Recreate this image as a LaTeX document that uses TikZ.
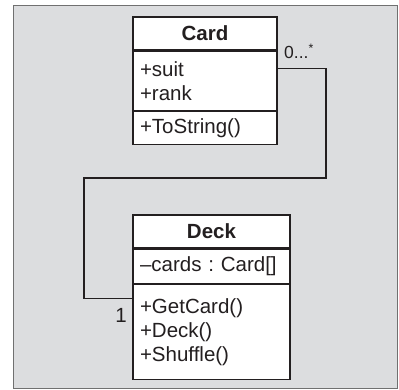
\documentclass[tikz,border=0pt]{standalone}
\usepackage{fontspec}
\setmainfont{Liberation Sans}
\usetikzlibrary{positioning}
\frenchspacing

\definecolor{framefill}{RGB}{220,221,223}
\definecolor{framegray}{RGB}{112,112,112}
\definecolor{ink}{RGB}{35,31,32}

\begin{document}
\begin{tikzpicture}[x=1pt, y=-1pt, line join=miter, text=ink,
  umlpart/.style={draw=ink, fill=white, line width=1.2pt, inner xsep=7pt, inner ysep=0pt,
    align=left, font=\fontsize{20.5}{24}\selectfont},
  umlhead/.style={align=center, font=\fontsize{20.5}{24}\selectfont\bfseries},
  cardpart/.style={umlpart, text width=130pt},
  deckpart/.style={umlpart, text width=143pt},
  assoc/.style={draw=ink, line width=1.2pt},
  mult/.style={inner sep=0pt, font=\fontsize{#1}{20}\selectfont}]

  %% ════ 背景框 ════
  \draw[draw=framegray, fill=framefill, line width=1pt] (13,5) rectangle (397,388);

  %% ════ Card 类 ════
  \node[cardpart, umlhead, minimum height=33pt] (cardhead) at (205,33.5) {Card};
  \node[cardpart, minimum height=59pt, below=0pt of cardhead] (cardattr) {+suit\\+rank};
  \node[cardpart, minimum height=33pt, below=0pt of cardattr] (cardops) {+ToString()};

  %% ════ Deck 类 ════
  \node[deckpart, umlhead, minimum height=33pt] (deckhead) at (211.5,231.5) {Deck};
  \node[deckpart, minimum height=34pt, below=0pt of deckhead] (deckattr) {–cards : Card[]};
  \node[deckpart, minimum height=95pt, below=0pt of deckattr] (deckops) {+GetCard()\\+Deck()\\+Shuffle()};

  %% ════ 关联线 ════
  \coordinate (bendr) at (326,178);
  \coordinate (bendl) at (84,178);
  \draw[assoc] ([yshift=12.5pt]cardattr.east) -| (bendr) -- (bendl) |- ([yshift=33.5pt]deckops.west);

  %% ════ 多重性 ════
  \node[mult=17.5, anchor=base west] (cardmult) at (284,58.5) {0...\textsuperscript{*}};
  \node[mult=20.5, anchor=base east] (deckmult) at (127,322) {1};

  % 钉死画布
  \pgfresetboundingbox
  \path[use as bounding box] (0,0) rectangle (399,389);
\end{tikzpicture}
\end{document}
